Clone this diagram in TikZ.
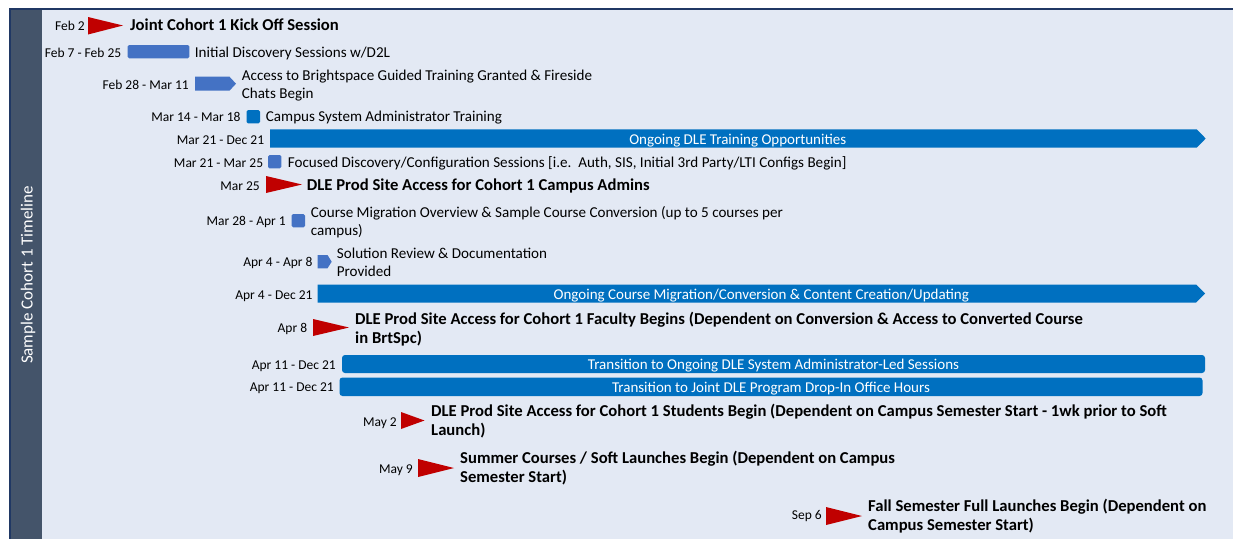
\documentclass[tikz,border=0pt]{standalone}
\usepackage{fontspec}
\setmainfont{Carlito}
\definecolor{bgc}{HTML}{E3E9F4}
\definecolor{side}{HTML}{44546A}
\definecolor{navy}{HTML}{203864}
\definecolor{lb}{HTML}{4472C4}
\definecolor{db}{HTML}{0070C0}
\definecolor{flagc}{HTML}{C00000}
\begin{document}
\begin{tikzpicture}[x=1pt,y=-1pt,
  date/.style={anchor=base east, inner sep=0pt, font=\fontsize{13.5}{16}\selectfont},
  lbl/.style={anchor=base west, inner sep=0pt, align=left, font=\fontsize{15.1}{17.8}\selectfont},
  blbl/.style={anchor=base west, inner sep=0pt, align=left, font=\bfseries\fontsize{16.65}{19.5}\selectfont},
  bartxt/.style={anchor=base, inner sep=0pt, text=white, font=\fontsize{15}{18}\selectfont},
  flagfill/.style={fill=flagc},
  lbar/.style={fill=lb},
  dbar/.style={fill=db}
]
\useasboundingbox (0,0) rectangle (1233,539);
% frame
\fill[bgc] (42,10) rectangle (1233,539);
\fill[side] (10,10) rectangle (42,539);
\fill[navy] (9,8) rectangle (1233,10);
\fill[navy] (9,8) rectangle (11,539);
\node[rotate=90, text=white, inner sep=0pt, font=\fontsize{17}{20}\selectfont] (side) at (28,275) {Sample Cohort 1 Timeline};

% 1
\node[date] (d1) at (85,30) {Feb 2};
\fill[flagfill] (88,17) -- (123,25.5) -- (88,34.5) -- cycle;
\node[blbl] (t1) at (130,30.7) {Joint Cohort 1 Kick Off Session};
% 2
\node[date] (d2) at (121.5,57.3) {Feb 7 - Feb 25};
\fill[lbar, rounded corners=1.5] (127.7,45) rectangle (189.3,58.3);
\node[lbl] (t2) at (194.7,57.3) {Initial Discovery Sessions w/D2L};
% 3
\node[date] (d3) at (189,89) {Feb 28 - Mar 11};
\fill[lbar] (195,76.7) -- (229.5,76.7) -- (236,83.7) -- (229.5,90.7) -- (195,90.7) -- cycle;
\node[lbl] (t3) at (241.7,98.5) {Access to Brightspace Guided Training Granted \& Fireside\\Chats Begin};
% 4
\node[date] (d4) at (240.7,121) {Mar 14 - Mar 18};
\fill[dbar, rounded corners=1.5] (246.5,110) rectangle (260,123.3);
\node[lbl] (t4) at (265.7,121) {Campus System Administrator Training};
% 5
\node[date] (d5) at (264.3,144) {Mar 21 - Dec 21};
\fill[dbar] (270,129.3) -- (1196.7,129.3) -- (1205.7,138.5) -- (1196.7,147.7) -- (270,147.7) -- cycle;
\node[bartxt] (b5) at (737.8,144) {Ongoing DLE Training Opportunities};
% 6
\node[date] (d6) at (263.3,167) {Mar 21 - Mar 25};
\fill[lbar, rounded corners=1.5] (268,155) rectangle (281.3,168.3);
\node[lbl] (t6) at (287.7,167) {Focused Discovery/Configuration Sessions [i.e.\ \ Auth, SIS, Initial 3rd Party/LTI Configs Begin]};
% 7
\node[date] (d7) at (260,190) {Mar 25};
\fill[flagfill] (266,176) -- (302,184.5) -- (266,193) -- cycle;
\node[blbl] (t7) at (306.7,190.5) {DLE Prod Site Access for Cohort 1 Campus Admins};
% 8
\node[date] (d8) at (286,225) {Mar 28 - Apr 1};
\fill[lbar, rounded corners=1.5] (291.7,214) rectangle (305,227.3);
\node[lbl] (t8) at (310.7,235) {Course Migration Overview \& Sample Course Conversion (up to 5 courses per\\campus)};
% 9
\node[date] (d9) at (312.7,266.5) {Apr 4 - Apr 8};
\fill[lbar] (317.7,255) -- (327.5,255) -- (331.7,261.7) -- (327.5,268.3) -- (317.7,268.3) -- cycle;
\node[lbl] (t9) at (336.7,276) {Solution Review \& Documentation\\Provided};
% 10
\node[date] (d10) at (312.7,299) {Apr 4 - Dec 21};
\fill[dbar] (317.5,284.5) -- (1196,284.5) -- (1205,293.5) -- (1196,302.5) -- (317.5,302.5) -- cycle;
\node[bartxt] (b10) at (761.3,299) {Ongoing Course Migration/Conversion \& Content Creation/Updating};
% 11
\node[date] (d11) at (307.3,332) {Apr 8};
\fill[flagfill] (313,319) -- (349,327.5) -- (313,336) -- cycle;
\node[blbl] (t11) at (355,343.5) {DLE Prod Site Access for Cohort 1 Faculty Begins (Dependent on Conversion \& Access to Converted Course\\in BrtSpc)};
% 12
\node[date] (d12) at (336,369.3) {Apr 11 - Dec 21};
\fill[dbar, rounded corners=3] (342,355) rectangle (1205,373);
\node[bartxt] (b12) at (773.5,369.3) {Transition to Ongoing DLE System Administrator-Led Sessions};
% 13
\node[date] (d13) at (334,391.5) {Apr 11 - Dec 21};
\fill[dbar, rounded corners=3] (339.5,377.5) rectangle (1202.5,396);
\node[bartxt] (b13) at (771,392) {Transition to Joint DLE Program Drop-In Office Hours};
% 14
\node[date] (d14) at (397,426) {May 2};
\fill[flagfill] (401,412) -- (424.5,420.5) -- (401,429) -- cycle;
\node[blbl] (t14) at (431,435.5) {DLE Prod Site Access for Cohort 1 Students Begin (Dependent on Campus Semester Start - 1wk prior to Soft\\Launch)};
% 15
\node[date] (d15) at (413,473) {May 9};
\fill[flagfill] (418,459) -- (454,468) -- (418,477) -- cycle;
\node[blbl] (t15) at (460,482.5) {Summer Courses / Soft Launches Begin (Dependent on Campus\\Semester Start)};
% 16
\node[date] (d16) at (822,519) {Sep 6};
\fill[flagfill] (826,507) -- (862,516) -- (826,525) -- cycle;
\node[blbl] (t16) at (868,530.5) {Fall Semester Full Launches Begin (Dependent on\\Campus Semester Start)};
\end{tikzpicture}
\end{document}
